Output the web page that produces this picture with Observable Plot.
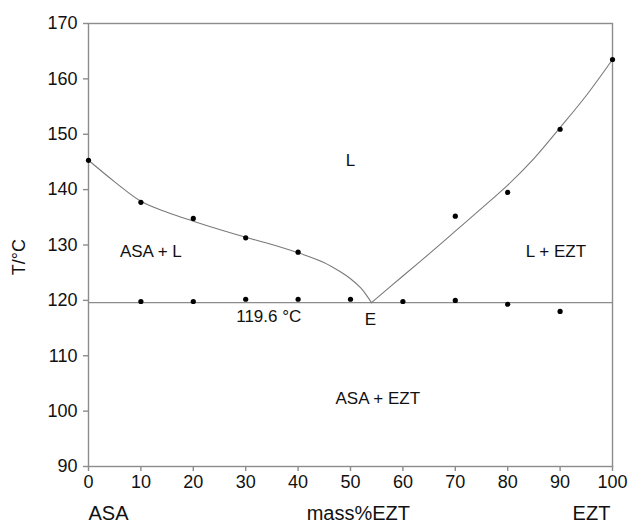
<!DOCTYPE html>
<html>
<head>
<meta charset="utf-8">
<script src="https://cdn.jsdelivr.net/npm/d3@7"></script>
<script src="https://cdn.jsdelivr.net/npm/@observablehq/plot@0.6"></script>
<style>
  html, body { margin: 0; padding: 0; background: #fff; }
</style>
</head>
<body>
<div id="chart"></div>
<script>
// Measured liquidus points (mass% EZT, T/°C)
const liqX = [0, 10, 20, 30, 40, 70, 80, 90, 100];
const liqT = [145.3, 137.7, 134.8, 131.3, 128.7, 135.2, 139.5, 150.9, 163.5];
// Measured solidus (eutectic) points
const solX = [10, 20, 30, 40, 50, 60, 70, 80, 90];
const solT = [119.8, 119.8, 120.2, 120.2, 120.2, 119.8, 120.0, 119.3, 118.0];
// Eutectic
const eutecticT = 119.6;
// Fitted liquidus curves
const curveLX = [0, 5, 10, 15, 20, 25, 30, 35, 40, 45, 48, 50, 52, 53, 54];
const curveLT = [145.3, 141.4, 137.9, 135.9, 134.3, 132.8, 131.4, 130.1, 128.6, 126.8, 125.2, 123.9, 122.2, 121.0, 119.6];
const curveRX = [54, 60, 65, 70, 75, 80, 85, 90, 95, 100];
const curveRT = [119.6, 124.4, 128.4, 132.5, 136.6, 140.8, 145.6, 151.2, 157.0, 163.5];
// Axis ticks
const xTicks = [0, 10, 20, 30, 40, 50, 60, 70, 80, 90, 100];
const yTicks = [90, 100, 110, 120, 130, 140, 150, 160, 170];
// Region labels
const labelText = ["L", "ASA + L", "L + EZT", "119.6 °C", "E", "ASA + EZT"];
const labelX = [50, 11.9, 89.2, 34.4, 53.8, 55.2];
const labelT = [145.3, 128.8, 128.8, 117.0, 116.6, 102.2];
// Axis titles
const leftTitle = "ASA";
const midTitle = "mass%EZT";
const rightTitle = "EZT";
const yTitle = "T/°C";

const pts = (xs, ys) => xs.map((x, i) => ({x, y: ys[i]}));
const labels = labelText.map((t, i) => ({t, x: labelX[i], y: labelT[i]}));

const axisColor = "#8c8c8c";
const textColor = "#111";
const bottomOpts = {frameAnchor: "bottom", lineAnchor: "middle", dy: 47, fontSize: 20, fill: textColor};

const chart = Plot.plot({
  width: 632,
  height: 524,
  marginLeft: 88,
  marginRight: 20,
  marginTop: 23,
  marginBottom: 58,
  style: {fontFamily: "'Liberation Sans', Arial, Helvetica, sans-serif", fontSize: "17px", color: textColor, background: "#fff"},
  x: {domain: [0, 100]},
  y: {domain: [90, 170]},
  marks: [
    Plot.frame({stroke: axisColor, strokeWidth: 1.4}),
    Plot.axisX({ticks: xTicks, tickSize: 5, tickPadding: 4, stroke: axisColor, strokeWidth: 1.4, label: null, fontSize: 18}),
    Plot.axisY({ticks: yTicks, tickSize: 5, tickPadding: 6, stroke: axisColor, strokeWidth: 1.4, label: null, fontSize: 18}),
    Plot.ruleY([eutecticT], {stroke: axisColor, strokeWidth: 1.4}),
    Plot.line(pts(curveLX, curveLT), {x: "x", y: "y", curve: "catmull-rom", stroke: "#7a7a7a", strokeWidth: 1.1}),
    Plot.line(pts(curveRX, curveRT), {x: "x", y: "y", curve: "catmull-rom", stroke: "#7a7a7a", strokeWidth: 1.1}),
    Plot.dot(pts(liqX, liqT), {x: "x", y: "y", r: 2.6, fill: "black", stroke: "none"}),
    Plot.dot(pts(solX, solT), {x: "x", y: "y", r: 2.6, fill: "black", stroke: "none"}),
    Plot.text(labels, {x: "x", y: "y", text: "t", fontSize: 17, fill: textColor}),
    Plot.text([leftTitle], {text: d => d, x: [0], textAnchor: "start", ...bottomOpts}),
    Plot.text([midTitle], {text: d => d, x: [51.5], textAnchor: "middle", ...bottomOpts}),
    Plot.text([rightTitle], {text: d => d, x: [99.6], textAnchor: "end", ...bottomOpts}),
    Plot.text([yTitle], {text: d => d, y: [127.8], frameAnchor: "left", textAnchor: "middle", lineAnchor: "middle", rotate: -90, dx: -69, fontSize: 18, fill: textColor})
  ]
});
document.getElementById("chart").appendChild(chart);
</script>
</body>
</html>
